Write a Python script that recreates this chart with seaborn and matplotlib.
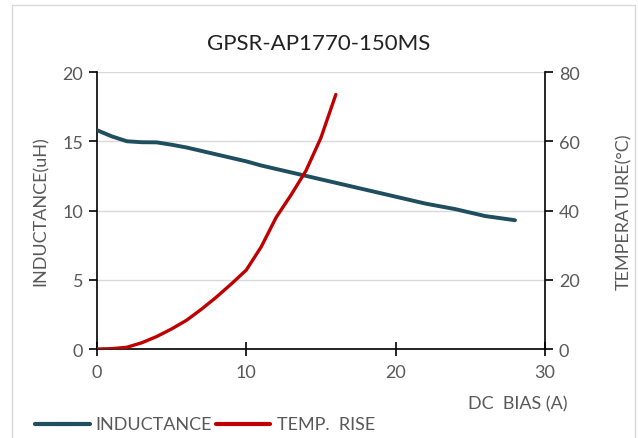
import matplotlib
matplotlib.use("Agg")
import matplotlib.pyplot as plt
import seaborn as sns
import pandas as pd
from matplotlib.patches import Rectangle
from matplotlib.lines import Line2D

title = "GPSR-AP1770-150MS"
ind_x = list(range(0, 29))
ind_y = [15.8, 15.35, 15.0, 14.93, 14.92, 14.75, 14.55, 14.3, 14.05, 13.8, 13.55,
         13.25, 13.0, 12.75, 12.5, 12.25, 12.0, 11.75, 11.5, 11.25, 11.0, 10.75,
         10.5, 10.3, 10.1, 9.85, 9.6, 9.45, 9.3]
temp_x = list(range(0, 17))
temp_y = [0.0, 0.1, 0.5, 1.8, 3.6, 5.8, 8.3, 11.5, 15.0, 18.8, 22.8, 29.5, 38.0,
          44.5, 51.5, 61.0, 73.5]
x_ticks = [0, 10, 20, 30]
left_ticks = [0, 5, 10, 15, 20]
right_ticks = [0, 20, 40, 60, 80]

ind_color = "#1f4e5f"
temp_color = "#c00000"
gray = "#595959"

sns.set_style("white")
plt.rcParams["font.family"] = ["Lato", "DejaVu Sans"]

fig = plt.figure(figsize=(6.38, 4.39), dpi=100)
ax = fig.add_axes([0.152, 0.2027, 0.702, 0.631])
ax2 = ax.twinx()

df_ind = pd.DataFrame({"x": ind_x, "y": ind_y})
df_temp = pd.DataFrame({"x": temp_x, "y": temp_y})
sns.lineplot(data=df_ind, x="x", y="y", ax=ax, color=ind_color, linewidth=2.8,
             solid_joinstyle="round", solid_capstyle="round", zorder=3)
sns.lineplot(data=df_temp, x="x", y="y", ax=ax2, color=temp_color, linewidth=2.4,
             solid_joinstyle="round", solid_capstyle="round", zorder=3)

ax.set_xlim(0, 30)
ax.set_ylim(0, 20)
ax2.set_ylim(0, 80)
ax.set_xticks(x_ticks)
ax.set_yticks(left_ticks)
ax2.set_yticks(right_ticks)
ax.yaxis.grid(True, color="#d9d9d9", linewidth=1)
ax.set_axisbelow(True)

for a in (ax, ax2):
    a.spines["top"].set_visible(False)
    for s in ("left", "right", "bottom"):
        a.spines[s].set_color("black")
        a.spines[s].set_linewidth(1.2)
ax.spines["right"].set_visible(False)
ax2.spines["left"].set_visible(False)
ax2.spines["bottom"].set_visible(False)

ax.tick_params(axis="y", direction="out", length=6, width=1.2, color="black",
               labelsize=13, labelcolor=gray, pad=4, left=True)
ax.tick_params(axis="x", direction="inout", length=10, width=1.2, color="black",
               labelsize=13, labelcolor=gray, pad=6, bottom=True)
ax2.tick_params(axis="y", direction="out", length=6, width=1.2, color="black",
                labelsize=13, labelcolor=gray, pad=4, right=True)

ax.set_xlabel("")
ax.set_ylabel("INDUCTANCE(uH)", fontsize=13, color=gray, labelpad=10)
ax2.set_ylabel("TEMPERATURE(\u00b0C)", fontsize=13, color=gray, labelpad=26)

fig.text(567 / 638, 1 - 404 / 439, "DC  BIAS (A)", ha="right", va="center",
         fontsize=13, color=gray, transform=fig.transFigure)
fig.text(0.5, 1 - 44 / 439, title, ha="center", va="center", fontsize=16, color="#222222")

# legend
ly = 1 - 425 / 439
fig.add_artist(Line2D([35 / 638, 90 / 638], [ly, ly], color=ind_color, linewidth=3,
                      solid_capstyle="round"))
fig.text(95 / 638, ly, "INDUCTANCE", ha="left", va="center", fontsize=13, color=gray)
fig.add_artist(Line2D([216 / 638, 270 / 638], [ly, ly], color=temp_color, linewidth=3,
                      solid_capstyle="round"))
fig.text(277 / 638, ly, "TEMP.  RISE", ha="left", va="center", fontsize=13, color=gray)

# outer border
fig.add_artist(Rectangle((12 / 638, -0.01), 623 / 638, 1 - 6 / 439 + 0.01,
                         transform=fig.transFigure, fill=False,
                         edgecolor="#d9d9d9", linewidth=1))

fig.savefig("out.png", dpi=100)
